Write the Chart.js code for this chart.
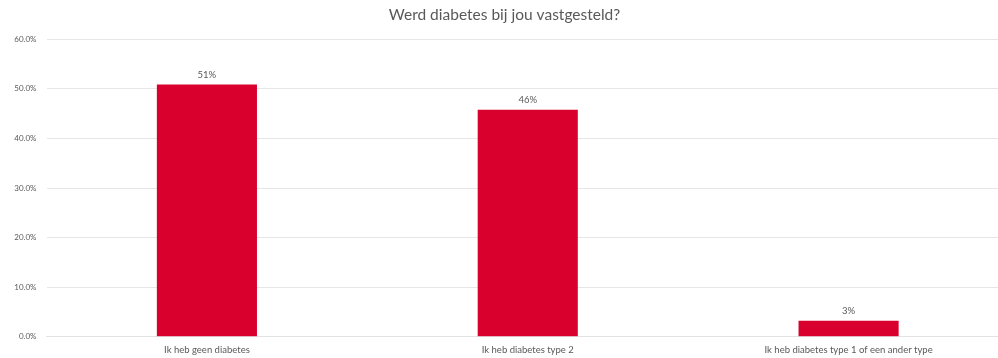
<!DOCTYPE html>
<html>
<head>
<meta charset="utf-8">
<script src="https://cdn.jsdelivr.net/npm/chart.js@4"></script>
<style>
  html, body { margin: 0; padding: 0; background: #fff; }
  #wrap { width: 998px; height: 358px; overflow: hidden; position: relative; }
  canvas { display: block; }
</style>
</head>
<body>
<div id="wrap"><canvas id="c" width="1030" height="358"></canvas></div>
<script>
const categories = ["Ik heb geen diabetes", "Ik heb diabetes type 2", "Ik heb diabetes type 1 of een ander type"];
const values = [50.9, 45.8, 3.2];
const yTicks = [0, 10, 20, 30, 40, 50, 60];
const titleText = "Werd diabetes bij jou vastgesteld?";

const FONT = "Lato, 'Open Sans', sans-serif";
const GRAY = "#595959";

const labelPlugin = {
  id: 'barLabels',
  afterDatasetsDraw(chart) {
    const ctx = chart.ctx;
    const meta = chart.getDatasetMeta(0);
    ctx.save();
    ctx.font = "9.5px " + FONT;
    ctx.fillStyle = GRAY;
    ctx.textAlign = "center";
    ctx.textBaseline = "bottom";
    meta.data.forEach((bar, i) => {
      ctx.fillText(Math.round(values[i]) + "%", bar.x, bar.y - 5);
    });
    ctx.restore();
  }
};

new Chart(document.getElementById('c'), {
  type: 'bar',
  data: {
    labels: categories,
    datasets: [{
      data: values,
      backgroundColor: '#D9002D',
      borderWidth: 0,
      categoryPercentage: 1,
      barPercentage: 0.312
    }]
  },
  options: {
    responsive: false,
    animation: false,
    devicePixelRatio: 1,
    layout: { padding: { left: 0, right: 21, top: 0, bottom: 0 } },
    plugins: {
      legend: { display: false },
      tooltip: { enabled: false },
      title: {
        display: true,
        text: titleText,
        color: GRAY,
        font: { family: FONT, size: 15.5, weight: 'normal' },
        padding: { top: 5.5, bottom: 15.2 }
      }
    },
    scales: {
      x: {
        offset: true,
        grid: { display: false, drawTicks: false },
        border: { display: true, color: '#e2e2e2', width: 1 },
        ticks: { color: GRAY, font: { family: FONT, size: 9.5 }, padding: 8, maxRotation: 0, autoSkip: false },
        afterFit(scale) { scale.height = 21.3; }
      },
      y: {
        min: 0,
        max: 60,
        afterBuildTicks(scale) { scale.ticks = yTicks.map(v => ({ value: v })); },
        grid: { color: '#e6e6e6', lineWidth: 1, drawTicks: false },
        border: { display: false },
        ticks: {
          color: GRAY,
          font: { family: FONT, size: 8 },
          padding: 10,
          callback: v => v.toFixed(1) + "%"
        },
        afterFit(scale) { scale.width = 46.5; }
      }
    }
  },
  plugins: [labelPlugin]
});
</script>
</body>
</html>
